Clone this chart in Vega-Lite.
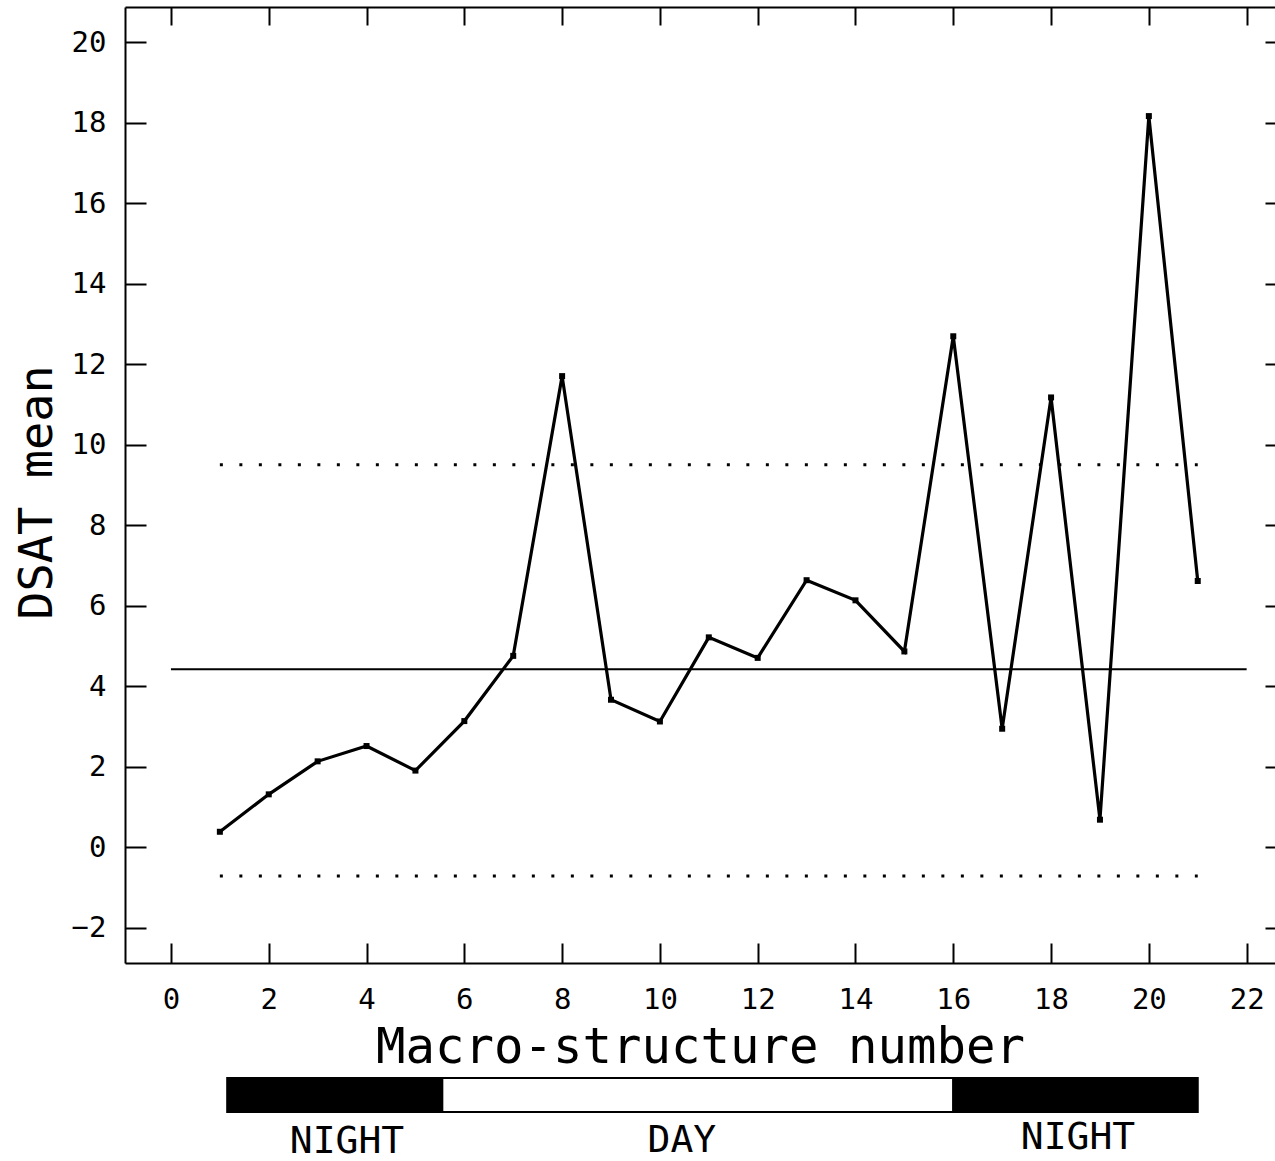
{
  "$schema": "https://vega.github.io/schema/vega-lite/v6.json",
  "width": 1150,
  "height": 956,
  "autosize": {"type": "none"},
  "padding": {"left": 125, "top": 7, "right": 0, "bottom": 198},
  "background": "white",
  "config": {
    "view": {"stroke": null},
    "axis": {
      "grid": false,
      "domain": true,
      "domainColor": "black",
      "domainWidth": 2,
      "tickColor": "black",
      "tickWidth": 2,
      "labelColor": "black",
      "titleColor": "black",
      "labelFont": "DejaVu Sans Mono",
      "titleFont": "DejaVu Sans Mono",
      "labelFontWeight": "normal",
      "titleFontWeight": "normal"
    }
  },
  "datasets": {
    "series": [
      {"n": 1, "dsat": 0.38},
      {"n": 2, "dsat": 1.31},
      {"n": 3, "dsat": 2.13},
      {"n": 4, "dsat": 2.51},
      {"n": 5, "dsat": 1.9},
      {"n": 6, "dsat": 3.13},
      {"n": 7, "dsat": 4.75},
      {"n": 8, "dsat": 11.7},
      {"n": 9, "dsat": 3.66},
      {"n": 10, "dsat": 3.12},
      {"n": 11, "dsat": 5.21},
      {"n": 12, "dsat": 4.7},
      {"n": 13, "dsat": 6.63},
      {"n": 14, "dsat": 6.13},
      {"n": 15, "dsat": 4.86},
      {"n": 16, "dsat": 12.69},
      {"n": 17, "dsat": 2.94},
      {"n": 18, "dsat": 11.17},
      {"n": 19, "dsat": 0.68},
      {"n": 20, "dsat": 18.16},
      {"n": 21, "dsat": 6.61}
    ],
    "mean": [{"from": 0, "to": 22, "level": 4.42}],
    "limits": [
      {"from": 1, "to": 21, "level": 9.5},
      {"from": 1, "to": 21, "level": -0.72}
    ],
    "band": [
      {"period": "NIGHT", "start": 1.15, "end": 5.55, "top": -5.74, "bottom": -6.58},
      {"period": "DAY", "start": 5.55, "end": 16.0, "top": -5.74, "bottom": -6.58},
      {"period": "NIGHT2", "start": 16.0, "end": 21.0, "top": -5.74, "bottom": -6.58}
    ],
    "labels": [
      {"text": "NIGHT", "pos": 3.6, "level": -7.32},
      {"text": "DAY", "pos": 10.45, "level": -7.3},
      {"text": "NIGHT", "pos": 18.55, "level": -7.22}
    ]
  },
  "layer": [
    {
      "data": {"name": "series"},
      "mark": {"type": "line", "color": "black", "strokeWidth": 3.2},
      "encoding": {
        "x": {
          "field": "n", "type": "quantitative",
          "scale": {"domain": [-0.94, 22.58], "nice": false, "zero": false},
          "axis": {
            "orient": "bottom",
            "values": [0, 2, 4, 6, 8, 10, 12, 14, 16, 18, 20, 22],
            "tickSize": -20,
            "labelPadding": 42,
            "labelFontSize": 29,
            "labelBaseline": "top",
            "title": "Macro-structure number",
            "titleFontSize": 49,
            "titleBaseline": "alphabetic",
            "titleY": 99
          }
        },
        "y": {
          "field": "dsat", "type": "quantitative",
          "scale": {"domain": [-2.88, 20.87], "nice": false, "zero": false},
          "axis": {
            "orient": "left",
            "values": [-2, 0, 2, 4, 6, 8, 10, 12, 14, 16, 18, 20],
            "tickSize": -21,
            "labelPadding": 40,
            "labelFontSize": 29,
            "title": "DSAT mean",
            "titleFontSize": 47,
            "titleX": -88,
            "titleY": 485,
            "titleBaseline": "middle",
            "titleAlign": "center",
            "titleAngle": -90
          }
        }
      }
    },
    {
      "data": {"name": "series"},
      "mark": {"type": "point", "shape": "square", "filled": true, "color": "black", "size": 36, "opacity": 1},
      "encoding": {
        "x": {"field": "n", "type": "quantitative", "axis": null},
        "y": {"field": "dsat", "type": "quantitative", "axis": null}
      }
    },
    {
      "data": {"name": "limits"},
      "mark": {"type": "rule", "color": "black", "strokeWidth": 3, "strokeDash": [3, 16.5], "strokeCap": "butt"},
      "encoding": {
        "x": {"field": "from", "type": "quantitative", "axis": null},
        "x2": {"field": "to"},
        "y": {"field": "level", "type": "quantitative", "axis": null}
      }
    },
    {
      "data": {"name": "band"},
      "mark": {"type": "rect", "stroke": "black", "strokeWidth": 2, "clip": false},
      "encoding": {
        "x": {"field": "start", "type": "quantitative", "axis": null},
        "x2": {"field": "end"},
        "y": {"field": "top", "type": "quantitative", "axis": null},
        "y2": {"field": "bottom"},
        "fill": {
          "field": "period", "type": "nominal",
          "scale": {"domain": ["NIGHT", "DAY", "NIGHT2"], "range": ["black", "white", "black"]},
          "legend": null
        }
      }
    },
    {
      "data": {"name": "labels"},
      "mark": {"type": "text", "font": "DejaVu Sans Mono", "fontSize": 38, "color": "black", "baseline": "middle", "align": "center"},
      "encoding": {
        "x": {"field": "pos", "type": "quantitative", "axis": null},
        "y": {"field": "level", "type": "quantitative", "axis": null},
        "text": {"field": "text", "type": "nominal"}
      }
    },
    {
      "data": {"name": "mean"},
      "mark": {"type": "rule", "color": "black", "strokeWidth": 2},
      "encoding": {
        "x": {
          "field": "from", "type": "quantitative",
          "axis": {"orient": "top", "values": [0, 2, 4, 6, 8, 10, 12, 14, 16, 18, 20, 22], "tickSize": -18, "labels": false, "title": null}
        },
        "x2": {"field": "to"},
        "y": {
          "field": "level", "type": "quantitative",
          "axis": {"orient": "right", "values": [-2, 0, 2, 4, 6, 8, 10, 12, 14, 16, 18, 20], "tickSize": -10, "domain": false, "labels": false, "title": null}
        }
      }
    }
  ],
  "resolve": {"axis": {"x": "independent", "y": "independent"}}
}
